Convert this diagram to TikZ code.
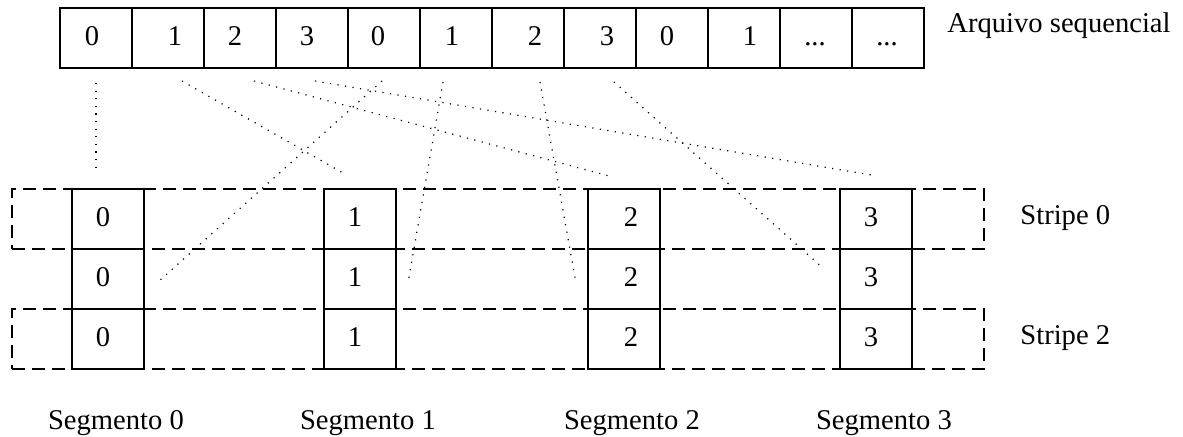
\documentclass[tikz,border=0pt]{standalone}
\usepackage{fontspec}
\setmainfont{Liberation Serif}

\newcommand{\reticencias}{...}

\begin{document}
\begin{tikzpicture}[x=0.5pt, y=-0.5pt, font=\fontsize{14.3}{17}\selectfont,
	cell/.style={draw, line width=0.8pt, minimum width=36pt, minimum height=30pt, inner sep=0pt},
	every label/.style={inner sep=0pt, text height=9.7pt, text depth=0pt},
	stripe/.style={draw, line width=0.8pt, dash pattern=on 6.5pt off 3.5pt, minimum width=486pt, minimum height=30pt, inner sep=0pt},
	link/.style={line width=0.6pt, dash pattern=on 0.6pt off 3.2pt}]
		
		\useasboundingbox (0,0) rectangle (1183,437);
		
		% Stripes tracejadas
		\foreach \s/\y in {0/219, 2/339} {
			\node [stripe] (stripe-\s) at (498,\y) {};
			\node [anchor=base west, inner sep=0pt] (stripe-\s-nome) at (1020,\y+6) {Stripe \s};
		}
		
		% Arquivo sequencial
		\foreach \t/\dx [count=\i from 0] in {0/-2,1/3.5,2/-2.5,3/-2.5,0/-3,1/-2,2/3.5,3/3.5,0/-2.5,1/3,\reticencias/-0.5,\reticencias/-0.5}
		\node [cell, label={[xshift=\dx pt, yshift=1pt]center:\t}] (arq-\i) at (96+72*\i,38) {};
		\node [anchor=base west, inner sep=0pt] (arq-nome) at (947,33) {Arquivo sequencial};
		
		% Segmentos
		\foreach \s/\xs/\dx in {0/108/-2.5, 1/360/-2.5, 2/624/3.5, 3/876/-2.5} {
			\foreach \ys [count=\k from 0] in {219,279,339}
			\node [cell, label={[xshift=\dx pt, yshift=1pt]center:\s}] (seg-\s-\k) at (\xs,\ys) {};
			\node [anchor=base, inner sep=0pt] (seg-\s-nome) at (\xs+8,430) {Segmento \s};
		}
		
		% Ligacoes pontilhadas
		\foreach \xa/\ya/\xb/\yb [count=\n from 0] in {96/83/96/172, 182/81/343/173, 254/81/609/176, 315/81/877/176, 382/81/158/282, 443/82/408/283, 540/82/576/283, 614/82/823/268} {
			\coordinate (ini-\n) at (\xa,\ya);
			\coordinate (fim-\n) at (\xb,\yb);
			\draw [link] (ini-\n) -- (fim-\n);
		}
		
	\end{tikzpicture}
\end{document}
